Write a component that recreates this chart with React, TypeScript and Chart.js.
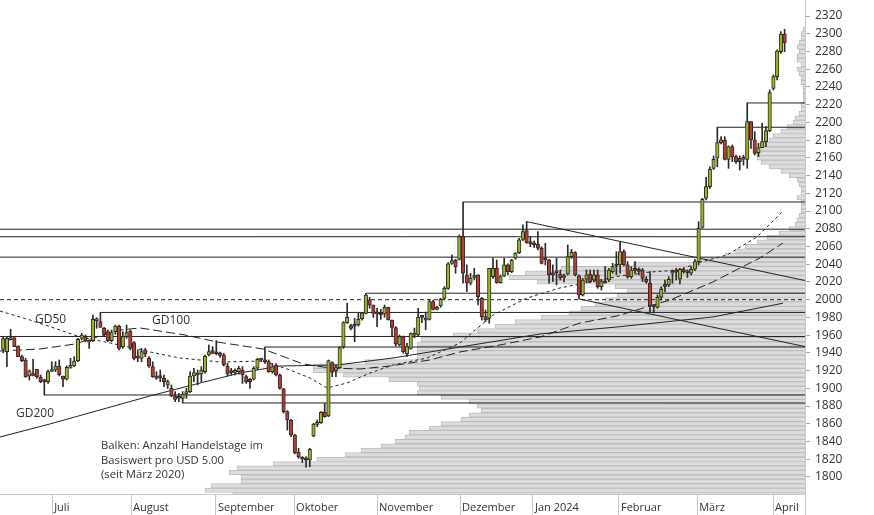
import React, { useEffect, useRef } from 'react';
import { Chart, registerables } from 'chart.js';

Chart.register(...registerables);

// ---- trading-day index of the first candle (index 0 = first trading day of July 2023)
const FIRST_INDEX = -14;

const opens = [
  1944, 1941.4, 1955, 1957.1, 1947.8, 1935.7, 1932, 1913.9, 1916, 1921.4,
  1912.4, 1910, 1907.5, 1919, 1920.7, 1925.2, 1913.9, 1910.2, 1923.7, 1925.2,
  1931.2, 1956.4, 1958.3, 1952, 1953.8, 1976.3, 1975.2, 1967.7, 1963.9, 1953.8,
  1963.9, 1970.3, 1947, 1958.3, 1964.7, 1951.5, 1936, 1933.8, 1943.3, 1933.8,
  1924.5, 1913.9, 1913, 1911.3, 1903.8, 1900, 1891.4, 1890, 1888.7, 1893.6,
  1896.3, 1913.9, 1915, 1916, 1918.8, 1937.6, 1942.5, 1940, 1940, 1937.6,
  1925.2, 1919.9, 1918, 1918.8, 1920.7, 1913.2, 1910.2, 1910.2, 1922.6, 1932,
  1931, 1930.1, 1918.8, 1926.3, 1915, 1899.3, 1873.7, 1864.3, 1847.4, 1827.8,
  1821, 1820.5, 1819.2, 1846.2, 1859.4, 1861.3, 1872.9, 1868.8, 1929, 1919.9,
  1923.3, 1947, 1974.1, 1970.7, 1971.4, 1971.4, 1978.5, 1984.6, 1999.7, 1994,
  1985, 1982.8, 1983.9, 1991.4, 1977.1, 1968.5, 1948.9, 1958.3, 1938.7, 1945.1,
  1960, 1960.2, 1981, 1979, 1977.8, 1997.8, 1989.1, 1992.9, 2001.5, 2012.8,
  2041, 2044.8, 2045.5, 2071.1, 2027.9, 2018.5, 2025, 2027.9, 2001.5, 1980.9,
  1979, 2026, 2035.4, 2019.2, 2026.8, 2039.2, 2031.6, 2046.7, 2053, 2068.1,
  2077.9, 2065.5, 2063.6, 2062.8, 2058, 2045, 2044.8, 2029.8, 2031.6, 2029,
  2025, 2029, 2048.6, 2053, 2026.8, 2005.3, 2023, 2029, 2022.2, 2027.9,
  2014.7, 2019.6, 2022.2, 2031.6, 2040, 2039.2, 2054.2, 2039.2, 2026, 2034,
  2033, 2033.5, 2023, 2018.5, 1994, 1991.4, 2002.7, 2016, 2016.6, 2029.8,
  2032, 2023, 2033.5, 2032, 2029.8, 2034.3, 2042.9, 2081.6, 2114.4, 2127.5,
  2148.2, 2159.5, 2177.1, 2180.1, 2158.3, 2172.6, 2161.3, 2159.5, 2158.3, 2158.3,
  2200.8, 2180.1, 2165.8, 2171.5, 2178.3, 2190.7, 2238.4, 2251.6, 2279.8, 2299.7,
];

const highs = [
  1958, 1958.3, 1966.6, 1957.5, 1948, 1937.6, 1933.8, 1920.7, 1932.7, 1921.4,
  1915, 1910.2, 1920.7, 1930, 1930.1, 1932, 1913.9, 1925.2, 1933.8, 1935.7,
  1956.4, 1962, 1960.2, 1954.5, 1982.7, 1979.7, 1985.6, 1968.8, 1965.8, 1965.8,
  1971.4, 1971.4, 1963.9, 1971.4, 1965.8, 1952.6, 1943.3, 1945.1, 1945.1, 1935.7,
  1930.1, 1918.8, 1920.7, 1915, 1909.4, 1903.8, 1896.3, 1894.4, 1896.3, 1900,
  1918.8, 1922.6, 1920.7, 1924.5, 1937.6, 1948.9, 1947, 1953.8, 1941, 1939.5,
  1928.2, 1922.6, 1922, 1925, 1924.5, 1915, 1911.3, 1924.5, 1933.8, 1933.8,
  1946.6, 1932, 1928, 1928, 1916, 1900, 1874.8, 1865, 1848, 1832.3,
  1823, 1823, 1832.3, 1860.5, 1864.3, 1873.7, 1883.1, 1932, 1930, 1926.3,
  1947, 1975.2, 1995.9, 1972.6, 1979, 1984.6, 1985.3, 2007.3, 2002.7, 1994,
  1990.3, 1989.1, 1994, 1991.4, 1977.1, 1969.6, 1960.2, 1959, 1950.8, 1962.5,
  1968, 1990.3, 1982, 1986, 1999.6, 1999.6, 1992.9, 2001.5, 2014.7, 2041.8,
  2050.4, 2045.5, 2073, 2110.2, 2039.2, 2029.8, 2035.4, 2027.9, 2002.7, 1988.4,
  2035.4, 2046.7, 2044.8, 2027.9, 2046.7, 2040.3, 2045.5, 2053, 2069.2, 2084.3,
  2088, 2071.1, 2066, 2076.8, 2059.8, 2063.6, 2045.5, 2039.2, 2046.7, 2033.5,
  2029, 2061.7, 2056.8, 2054.2, 2027.9, 2024.1, 2033.5, 2033.5, 2033.5, 2033.5,
  2022.2, 2037.3, 2035.4, 2041, 2054.2, 2065.5, 2056.1, 2042.9, 2037.3, 2042.9,
  2036, 2035.4, 2026, 2031.6, 1994, 2005.3, 2014.7, 2022.2, 2026, 2033.5,
  2035.4, 2035.4, 2036, 2033.5, 2037.3, 2045.5, 2088, 2114.4, 2138, 2150,
  2162.1, 2194.5, 2183.9, 2183.9, 2173.4, 2174.5, 2163.2, 2162.1, 2163, 2221.9,
  2200.8, 2189.5, 2176.4, 2199, 2195.2, 2236.5, 2253.5, 2281.7, 2302.3, 2305,
];

const lows = [
  1940, 1924.5, 1954.5, 1947, 1935.7, 1930.1, 1912.4, 1909.4, 1913.9, 1911.3,
  1906.4, 1892.5, 1905.6, 1918.8, 1918.8, 1913.9, 1901.9, 1909.4, 1922.5, 1924.5,
  1930.1, 1954.5, 1952.6, 1945.1, 1952.6, 1967.7, 1968.8, 1958.3, 1952.6, 1952.6,
  1961, 1943.3, 1945.1, 1956.4, 1943.3, 1932, 1930.1, 1930.1, 1935.7, 1923.7,
  1912.4, 1910.2, 1907.5, 1901.9, 1900, 1890.6, 1885, 1885, 1883.5, 1888.7,
  1895, 1907.5, 1903.8, 1907.5, 1917, 1936.5, 1939, 1937.6, 1935, 1925.2,
  1914, 1915, 1915, 1916, 1905.6, 1905.6, 1900, 1909.4, 1921.4, 1930,
  1928, 1918, 1917, 1914, 1899, 1872, 1853, 1845.5, 1826, 1821,
  1816.2, 1811, 1811.6, 1845.5, 1856.8, 1860.5, 1867.3, 1868, 1913.2, 1913.2,
  1922.6, 1945.1, 1973.3, 1965.8, 1952.6, 1970.3, 1977, 1983.8, 1990.3, 1980.1,
  1969.6, 1977.8, 1980.1, 1977, 1959, 1947.8, 1947.8, 1939.5, 1935.7, 1944,
  1957, 1959, 1974, 1966, 1977.1, 1988.4, 1988.4, 1991.4, 2000.4, 2011.7,
  2039.9, 2029.7, 2044.8, 2018.5, 2009.1, 2016.6, 2022.2, 1994, 1977.1, 1975.2,
  1973.4, 2024.1, 2018.5, 2018.5, 2026, 2027.9, 2030.5, 2045.5, 2052.3, 2066.6,
  2063.6, 2059.8, 2059, 2056, 2040.3, 2039.2, 2018.5, 2020.4, 2016.6, 2022.2,
  2020, 2027.9, 2046.7, 2026.8, 2000.8, 2004.2, 2019.2, 2019.2, 2020.4, 2012.8,
  2010.9, 2018.5, 2020.4, 2029.8, 2027.9, 2029.8, 2038, 2024.1, 2024.1, 2029.8,
  2028, 2020.4, 2018.5, 1985.5, 1985, 1990.3, 1999.6, 2009.1, 2014.7, 2018.5,
  2022.2, 2017.7, 2029.8, 2025, 2027.9, 2032.7, 2039.2, 2080.5, 2112.5, 2125.6,
  2147, 2150, 2175.6, 2157.6, 2148.2, 2155.7, 2153.8, 2146.3, 2151.8, 2148.2,
  2170.7, 2163.2, 2161.3, 2171.5, 2172.6, 2189.5, 2236.5, 2247.8, 2277.9, 2279.8,
];

const closes = [
  1956, 1956.4, 1956, 1947, 1935.7, 1931.2, 1913.2, 1919.6, 1914.5, 1913.2,
  1907.5, 1907.5, 1918.8, 1921, 1925.2, 1915, 1910.2, 1923.7, 1925.2, 1930.8,
  1955.3, 1960.2, 1953.8, 1953, 1977.8, 1977.8, 1968.8, 1960.9, 1953.8, 1962.8,
  1970.3, 1945.1, 1958.3, 1962.8, 1945.1, 1933.8, 1934, 1941.4, 1938.7, 1925.2,
  1913.2, 1911.3, 1912, 1907.5, 1907.5, 1891.4, 1887.6, 1889, 1893.6, 1896.3,
  1913.9, 1917.7, 1917, 1920.7, 1936.5, 1941.4, 1939.5, 1939, 1937.2, 1926.3,
  1916.2, 1917.7, 1919.5, 1922.6, 1915, 1907.5, 1907.5, 1922.6, 1932.7, 1932.5,
  1930, 1918.8, 1924.5, 1915, 1900, 1873.7, 1864.3, 1847.4, 1827.4, 1822.9,
  1820, 1819, 1831.2, 1859.8, 1861.3, 1872.9, 1868, 1931.2, 1918.8, 1923.3,
  1945.9, 1974.1, 1980, 1967.7, 1970, 1977.8, 1984.9, 2005.3, 1994, 1984.6,
  1984, 1982.7, 1991.4, 1977.1, 1968.8, 1950, 1958.3, 1941.4, 1947, 1962,
  1962, 1980.1, 1980, 1977, 1997.8, 1989.1, 1991.4, 2000.4, 2012.8, 2040.3,
  2044, 2037.3, 2071.1, 2029.8, 2018.5, 2024.1, 2027, 2003.4, 1980.9, 1977.1,
  2035.4, 2035.4, 2019.2, 2026, 2039.2, 2031.6, 2044.8, 2052.3, 2067.4, 2076.8,
  2064.4, 2062.8, 2062, 2058, 2041, 2044.8, 2027.9, 2028, 2030.5, 2024.9,
  2027, 2048.6, 2053.4, 2027.9, 2005.3, 2022.2, 2027.9, 2020.4, 2027.9, 2014.7,
  2020.4, 2018.9, 2033.5, 2037.3, 2038, 2054.2, 2039.2, 2026, 2033.5, 2033,
  2032, 2024.1, 2020.4, 1992.9, 1992, 2002.7, 2011.7, 2015, 2023, 2031.6,
  2031, 2034.3, 2031.6, 2030.5, 2034.3, 2042.9, 2080.5, 2113.2, 2127.5, 2147,
  2158.3, 2177.1, 2180.1, 2158.3, 2172.6, 2161.3, 2155.7, 2155.7, 2160.4, 2200.8,
  2180.1, 2165.1, 2171.5, 2178.3, 2190.7, 2233.5, 2251.6, 2280.5, 2299.7, 2289.9,
];

// ---- axes
const X_MIN = -14.85;
const X_MAX = 200.45;
const Y_MIN = 1780.8;
const Y_MAX = 2338.05;
const monthLabels = ['Juli', 'August', 'September', 'Oktober', 'November', 'Dezember', 'Jan 2024', 'Februar', 'März', 'April'];
const monthTicks = [-0.9, 20.2, 42.9, 63.8, 86, 108.2, 127.7, 150.7, 171.6, 191.9];
const priceTicks = [1800, 1820, 1840, 1860, 1880, 1900, 1920, 1940, 1960, 1980, 2000, 2020, 2040, 2060, 2080, 2100, 2120, 2140, 2160, 2180, 2200, 2220, 2240, 2260, 2280, 2300, 2320];

// ---- volume profile: trading days per USD 5 bin
const profileBins = [
  1780, 1785, 1790, 1795, 1800, 1805, 1810, 1815, 1820, 1825,
  1830, 1835, 1840, 1845, 1850, 1855, 1860, 1865, 1870, 1875,
  1880, 1885, 1890, 1895, 1900, 1905, 1910, 1915, 1920, 1925,
  1930, 1935, 1940, 1945, 1950, 1955, 1960, 1965, 1970, 1975,
  1980, 1985, 1990, 1995, 2000, 2005, 2010, 2015, 2020, 2025,
  2030, 2035, 2040, 2045, 2050, 2055, 2060, 2065, 2070, 2075,
  2080, 2085, 2090, 2095, 2100, 2105, 2110, 2115, 2120, 2125,
  2130, 2135, 2140, 2145, 2150, 2155, 2160, 2165, 2170, 2175,
  2180, 2185, 2190, 2195, 2200, 2205, 2210, 2215, 2220, 2225,
  2230, 2235, 2240, 2245, 2250, 2255, 2260, 2265, 2270, 2275,
  2280, 2285, 2290, 2295, 2300, 2305,
];
const profileDays = [
  286, 300, 297, 282, 282, 288, 284, 266, 244, 230,
  222, 212, 205, 200, 198, 188, 182, 172, 168, 162,
  164, 168, 182, 194, 193, 194, 208, 231, 246, 246,
  220, 194, 194, 194, 194, 192, 176, 164, 155, 145,
  132, 118, 112, 105, 100, 94, 89, 95, 134, 148,
  140, 122, 86, 52, 40, 35, 30, 24, 19, 13,
  8, 5, 4, 3, 2, 2, 2, 4, 2, 2,
  3, 4, 8, 12, 18, 22, 24, 24, 22, 22,
  18, 16, 12, 9, 6, 5, 3, 2, 2, 1,
  1, 1, 1, 2, 2, 3, 4, 2, 4, 4,
  3, 4, 3, 2, 2, 1,
];
const PROFILE_MAX = 402.5;

// ---- horizontal support / resistance levels
const levelPrices = [2079.5, 2071, 2048, 1958.5, 1985.6, 1892.5, 1883.5, 1946.6, 2007.3, 2110.2, 2194.5, 2221.9];
const levelStarts = [X_MIN, X_MIN, X_MIN, X_MIN, 12, -3, 34, 56, 83, 109, 177, 185];
const dashedLevel = 2000;

// ---- trend lines
const trendAIdx = [126, X_MAX];
const trendAVal = [2088, 2021.6];
const trendBIdx = [140, X_MAX];
const trendBVal = [2000.8, 1947.1];

// ---- moving averages
const gd50Idx = [-14.85, -6.83, 1.21, 6.55, 14.57, 25.27, 33.29, 43.99, 55.49, 62.71, 68.06, 72.6, 77.95, 84.1, 90.26, 99.35, 108.17, 117, 126.09, 134.91, 142.94, 150.96, 158.98, 167, 171.55, 179.57, 187.59, 194.55];
const gd50Val = [1987.2, 1977.1, 1965.8, 1957.9, 1951.2, 1941, 1934.2, 1929.7, 1930.8, 1920.7, 1911.7, 1900.4, 1906, 1917.3, 1926.3, 1934.2, 1951.2, 1982.7, 2001.9, 2013.2, 2020, 2026.7, 2031.2, 2033.5, 2041.4, 2050.4, 2070.7, 2100];
const gd100Idx = [-14.85, -4.15, 5.21, 11.9, 17.25, 22.6, 34.63, 43.19, 55.49, 66.19, 73.41, 81.43, 89.46, 100.15, 108.17, 118.87, 129.57, 140.27, 150.16, 158.98, 164.33, 175.83, 183.05, 188.4, 194.55];
const gd100Val = [1942.1, 1944.4, 1950, 1959, 1965.8, 1968.1, 1960.2, 1952.3, 1944.4, 1927.5, 1922.9, 1921.8, 1925.2, 1932, 1941, 1948.9, 1957.9, 1973.7, 1981.6, 1992.9, 1999.6, 2020, 2035.7, 2047, 2063.9];
const gd200Idx = [-14.85, -1.48, 11.9, 25.27, 38.64, 49.34, 60.04, 75.28, 90.26, 108.17, 129.57, 150.16, 175.83, 194.55];
const gd200Val = [1845.1, 1859.8, 1875.6, 1891.4, 1906, 1917.3, 1925.2, 1926.3, 1934.2, 1946.6, 1961.3, 1969.2, 1980.5, 1996];

const noteLines = ['Balken: Anzahl Handelstage im', 'Basiswert pro USD 5.00', '(seit März 2020)'];

const UP = '#9db423';
const DOWN = '#c0392b';
const INK = '#222222';
const FONT = '"Open Sans", "Noto Sans", sans-serif';

const pts = (xs: number[], ys: number[]) => xs.map((x, i) => ({ x, y: ys[i] }));

const textPlugin = {
  id: 'chartText',
  afterDatasetsDraw(chart: any) {
    const ctx = chart.ctx;
    ctx.save();
    ctx.fillStyle = '#333';
    ctx.font = `12px ${FONT}`;
    ctx.textBaseline = 'middle';
    ctx.textAlign = 'left';
    ctx.fillText('GD50', 35, 320);
    ctx.fillText('GD100', 152, 321);
    ctx.fillText('GD200', 16, 414);
    ctx.font = `11.3px ${FONT}`;
    ctx.textBaseline = 'alphabetic';
    noteLines.forEach((t, i) => ctx.fillText(t, 101, 449 + i * 14.5));
    ctx.restore();
  },
};

export default function App() {
  const ref = useRef<HTMLCanvasElement | null>(null);
  useEffect(() => {
    document.body.style.margin = '0';
    const idx = opens.map((_, i) => FIRST_INDEX + i);
    const isUp = opens.map((o, i) => closes[i] >= o);

    const lineBase = { type: 'line', pointRadius: 0, borderWidth: 1, borderColor: INK, tension: 0, xAxisID: 'x', yAxisID: 'y', fill: false };

    const datasets: any[] = [
      {
        type: 'bar', label: 'profile', indexAxis: 'y', xAxisID: 'x2', yAxisID: 'y',
        data: profileBins.map((b, i) => ({ y: b, x: profileDays[i] })),
        backgroundColor: '#dcdcdc', borderColor: '#bdbdbd', borderWidth: 1, barThickness: 4.43, grouped: false, order: 30,
      },
      { ...lineBase, label: 'GD200', data: pts(gd200Idx, gd200Val), order: 12 },
      { ...lineBase, label: 'GD100', data: pts(gd100Idx, gd100Val), borderDash: [9, 4], order: 12 },
      { ...lineBase, label: 'GD50', data: pts(gd50Idx, gd50Val), borderDash: [3, 3], order: 12 },
      { ...lineBase, label: '2000', data: [{ x: X_MIN, y: dashedLevel }, { x: X_MAX, y: dashedLevel }], borderDash: [4, 3], order: 10 },
      ...levelPrices.map((p, i) => ({ ...lineBase, label: 'lvl' + i, data: [{ x: levelStarts[i], y: p }, { x: X_MAX, y: p }], order: 10 })),
      { ...lineBase, label: 'trendA', data: pts(trendAIdx, trendAVal), order: 10 },
      { ...lineBase, label: 'trendB', data: pts(trendBIdx, trendBVal), order: 10 },
      {
        type: 'bar', label: 'wicks', xAxisID: 'x', yAxisID: 'y',
        data: idx.map((x, i) => ({ x, y: [lows[i], highs[i]] })),
        backgroundColor: '#2a2a2a', borderWidth: 0, barThickness: 1, grouped: false, order: 3,
      },
      {
        type: 'bar', label: 'bodies', xAxisID: 'x', yAxisID: 'y',
        data: idx.map((x, i) => ({ x, y: [opens[i], closes[i]] })),
        backgroundColor: isUp.map((u) => (u ? UP : DOWN)), borderColor: '#2a2a2a', borderWidth: 1,
        borderSkipped: false, barThickness: 3.5, minBarLength: 2, grouped: false, order: 2,
      },
    ];

    const chart = new Chart(ref.current as HTMLCanvasElement, {
      type: 'bar',
      data: { datasets },
      options: {
        animation: false,
        responsive: false,
        devicePixelRatio: 1,
        events: [],
        layout: { padding: 0 },
        plugins: { legend: { display: false }, tooltip: { enabled: false }, title: { display: false } },
        scales: {
          x: {
            type: 'linear', position: 'bottom', min: X_MIN, max: X_MAX, offset: false,
            afterBuildTicks: (s: any) => { s.ticks = [...monthTicks, X_MAX].map((v) => ({ value: v })); },
            afterFit: (s: any) => { s.height = 21; s.paddingLeft = 0; s.paddingRight = 0; s.paddingTop = 0; s.paddingBottom = 0; },
            ticks: {
              autoSkip: false, maxRotation: 0, minRotation: 0, align: 'start', labelOffset: 2, padding: -13.5,
              color: '#333', font: { family: FONT, size: 11 },
              callback: (_v: any, i: number) => monthLabels[i] ?? '',
            },
            grid: { offset: false, drawOnChartArea: false, drawTicks: true, tickLength: 21, color: '#c8c8c8' },
            border: { display: true, color: '#c8c8c8' },
          },
          x2: { type: 'linear', axis: 'x', display: false, reverse: true, min: 0, max: PROFILE_MAX, offset: false, grid: { offset: false } },
          y: {
            type: 'linear', position: 'right', min: Y_MIN, max: Y_MAX, offset: false,
            afterBuildTicks: (s: any) => { s.ticks = priceTicks.map((v) => ({ value: v })); },
            afterFit: (s: any) => { s.width = 69; s.paddingTop = 0; s.paddingBottom = 0; s.paddingLeft = 0; s.paddingRight = 0; },
            ticks: { autoSkip: false, padding: 5, color: '#333', font: { family: FONT, size: 12 }, callback: (v: any) => String(v) },
            grid: { offset: false, drawOnChartArea: false, drawTicks: true, tickLength: 5, color: '#aaaaaa' },
            border: { display: true, color: '#c8c8c8' },
          },
        },
      } as any,
      plugins: [textPlugin],
    } as any);
    return () => chart.destroy();
  }, []);

  return (
    <div style={{ position: 'fixed', left: 0, top: 0, width: 874, height: 515, background: '#fff' }}>
      <canvas ref={ref} width={874} height={515} style={{ display: 'block', width: 874, height: 515 }} />
    </div>
  );
}
